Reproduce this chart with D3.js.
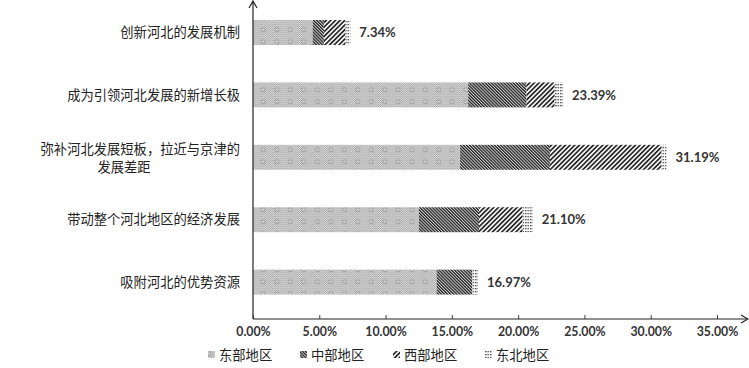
<!DOCTYPE html>
<html>
<head>
<meta charset="utf-8">
<script src="https://cdn.jsdelivr.net/npm/d3@7/dist/d3.min.js"></script>
<style>
  html, body { margin: 0; padding: 0; background: #fff; }
  svg { display: block; }
  .cat { font-family: "Noto Sans CJK SC", sans-serif; font-size: 13.3px; fill: #222; }
  .tick text { font-family: Lato, "DejaVu Sans", sans-serif; font-weight: 700; font-size: 12.3px; fill: #333; }
  .val { font-family: Lato, "DejaVu Sans", sans-serif; font-weight: 700; font-size: 13px; fill: #333; }
  .leg { font-family: "Noto Sans CJK SC", sans-serif; font-size: 13.3px; fill: #222; }
</style>
</head>
<body>
<script>
// ---- data ----
const categories = [
  "创新河北的发展机制",
  "成为引领河北发展的新增长极",
  "弥补河北发展短板，拉近与京津的发展差距",
  "带动整个河北地区的经济发展",
  "吸附河北的优势资源"
];
const seriesNames = ["东部地区", "中部地区", "西部地区", "东北地区"];
const eastVals      = [4.50, 16.23, 15.62, 12.51, 13.85];
const centralVals   = [0.85,  4.40,  6.78,  4.54,  2.70];
const westVals      = [1.62,  2.13,  8.42,  3.29,  0.00];
const northeastVals = [0.37,  0.63,  0.37,  0.76,  0.42];
const totalLabels   = ["7.34%", "23.39%", "31.19%", "21.10%", "16.97%"];
const tickValues    = [0, 5, 10, 15, 20, 25, 30, 35];

// ---- setup ----
const W = 749, H = 368;
const svg = d3.select("body").append("svg").attr("width", W).attr("height", H);
const defs = svg.append("defs");

// dither base
const dither = defs.append("pattern").attr("id", "dither")
  .attr("patternUnits", "userSpaceOnUse").attr("width", 2).attr("height", 2);
dither.append("rect").attr("width", 2).attr("height", 2).attr("fill", "#e4e4e4");
dither.append("rect").attr("x", 0).attr("y", 0).attr("width", 1).attr("height", 1).attr("fill", "#a0a0a0");
dither.append("rect").attr("x", 1).attr("y", 1).attr("width", 1).attr("height", 1).attr("fill", "#a0a0a0");

// east: dither with small squares
const pEast = defs.append("pattern").attr("id", "pEast")
  .attr("patternUnits", "userSpaceOnUse").attr("width", 13.5).attr("height", 12);
pEast.append("rect").attr("width", 13.5).attr("height", 12).attr("fill", "url(#dither)");
pEast.append("rect").attr("x", 5).attr("y", 4).attr("width", 3.5).attr("height", 3.5)
  .attr("fill", "#cfcfcf").attr("stroke", "#959595").attr("stroke-width", 0.7);

// central: dense backslash hatch
const pCentral = defs.append("pattern").attr("id", "pCentral")
  .attr("patternUnits", "userSpaceOnUse").attr("width", 2.2).attr("height", 2.2)
  .attr("patternTransform", "rotate(-45)");
pCentral.append("rect").attr("width", 2.2).attr("height", 2.2).attr("fill", "#cfcfcf");
pCentral.append("rect").attr("width", 1.2).attr("height", 2.2).attr("fill", "#1e1e1e");

// west: wider forward-slash stripes
const pWest = defs.append("pattern").attr("id", "pWest")
  .attr("patternUnits", "userSpaceOnUse").attr("width", 3.3).attr("height", 3.3)
  .attr("patternTransform", "rotate(45)");
pWest.append("rect").attr("width", 3.3).attr("height", 3.3).attr("fill", "#f4f4f4");
pWest.append("rect").attr("width", 1.6).attr("height", 3.3).attr("fill", "#222");

// northeast: small grid
const pNE = defs.append("pattern").attr("id", "pNE")
  .attr("patternUnits", "userSpaceOnUse").attr("width", 2.5).attr("height", 3);
pNE.append("rect").attr("width", 2.5).attr("height", 3).attr("fill", "#f8f8f8");
pNE.append("rect").attr("width", 1.5).attr("height", 1.3).attr("fill", "#555");

const fills = ["url(#pEast)", "url(#pCentral)", "url(#pWest)", "url(#pNE)"];

// ---- scales ----
const x = d3.scaleLinear().domain([0, 35]).range([253, 717]);
const y = d3.scaleBand().domain(categories).range([1.3, 313.3])
  .paddingInner(0.6).paddingOuter(0.3);

// ---- stacked data ----
const rows = categories.map((c, i) => ({
  cat: c,
  [seriesNames[0]]: eastVals[i],
  [seriesNames[1]]: centralVals[i],
  [seriesNames[2]]: westVals[i],
  [seriesNames[3]]: northeastVals[i]
}));
const stacked = d3.stack().keys(seriesNames)(rows);

svg.append("g").selectAll("g").data(stacked).join("g")
  .attr("fill", (d, i) => fills[i])
  .selectAll("rect").data(d => d).join("rect")
  .attr("x", d => x(d[0]))
  .attr("y", d => y(d.data.cat))
  .attr("width", d => Math.max(0, x(d[1]) - x(d[0])))
  .attr("height", y.bandwidth());

// value labels
const totals = rows.map((r, i) => eastVals[i] + centralVals[i] + westVals[i] + northeastVals[i]);
svg.append("g").selectAll("text").data(categories).join("text")
  .attr("class", "val")
  .attr("x", (d, i) => x(totals[i]) + 9)
  .attr("y", d => y(d) + y.bandwidth() / 2)
  .attr("dy", "0.36em")
  .text((d, i) => totalLabels[i]);

// category labels
const catG = svg.append("g");
categories.forEach(c => {
  const cy = y(c) + y.bandwidth() / 2;
  if (c.length > 15) {
    catG.append("text").attr("class", "cat").attr("x", 240).attr("y", cy - 8)
      .attr("dy", "0.36em").attr("text-anchor", "end").text(c.slice(0, 15));
    catG.append("text").attr("class", "cat").attr("x", 124).attr("y", cy + 10)
      .attr("dy", "0.36em").attr("text-anchor", "middle").text(c.slice(15));
  } else {
    catG.append("text").attr("class", "cat").attr("x", 240).attr("y", cy)
      .attr("dy", "0.36em").attr("text-anchor", "end").text(c);
  }
});

// ---- axes ----
const axisY = 319;
const xAxis = d3.axisBottom(x).tickValues(tickValues)
  .tickFormat(d => d.toFixed(2) + "%").tickSizeInner(-4).tickSizeOuter(0).tickPadding(8);
const gx = svg.append("g").attr("transform", `translate(0,${axisY})`).call(xAxis);
gx.select(".domain").remove();
gx.selectAll(".tick line").attr("stroke", "#444");

const axisColor = "#222";
// horizontal axis line with arrow
svg.append("line").attr("x1", 253).attr("x2", 747).attr("y1", axisY).attr("y2", axisY)
  .attr("stroke", axisColor).attr("stroke-width", 1.2);
svg.append("path").attr("d", `M741,${axisY - 4} L748,${axisY} L741,${axisY + 4}`)
  .attr("fill", "none").attr("stroke", axisColor).attr("stroke-width", 1.2);
// vertical axis line with arrow
svg.append("line").attr("x1", 253).attr("x2", 253).attr("y1", axisY).attr("y2", 1)
  .attr("stroke", axisColor).attr("stroke-width", 1.2);
svg.append("path").attr("d", `M249,8 L253,1 L257,8`)
  .attr("fill", "none").attr("stroke", axisColor).attr("stroke-width", 1.2);

// ---- legend ----
const legX = [208, 300, 393, 485];
const legG = svg.append("g");
seriesNames.forEach((n, i) => {
  legG.append("rect").attr("x", legX[i]).attr("y", 351).attr("width", 7).attr("height", 7)
    .attr("fill", fills[i]);
  legG.append("text").attr("class", "leg").attr("x", legX[i] + 11).attr("y", 355)
    .attr("dy", "0.36em").text(n);
});
</script>
</body>
</html>
